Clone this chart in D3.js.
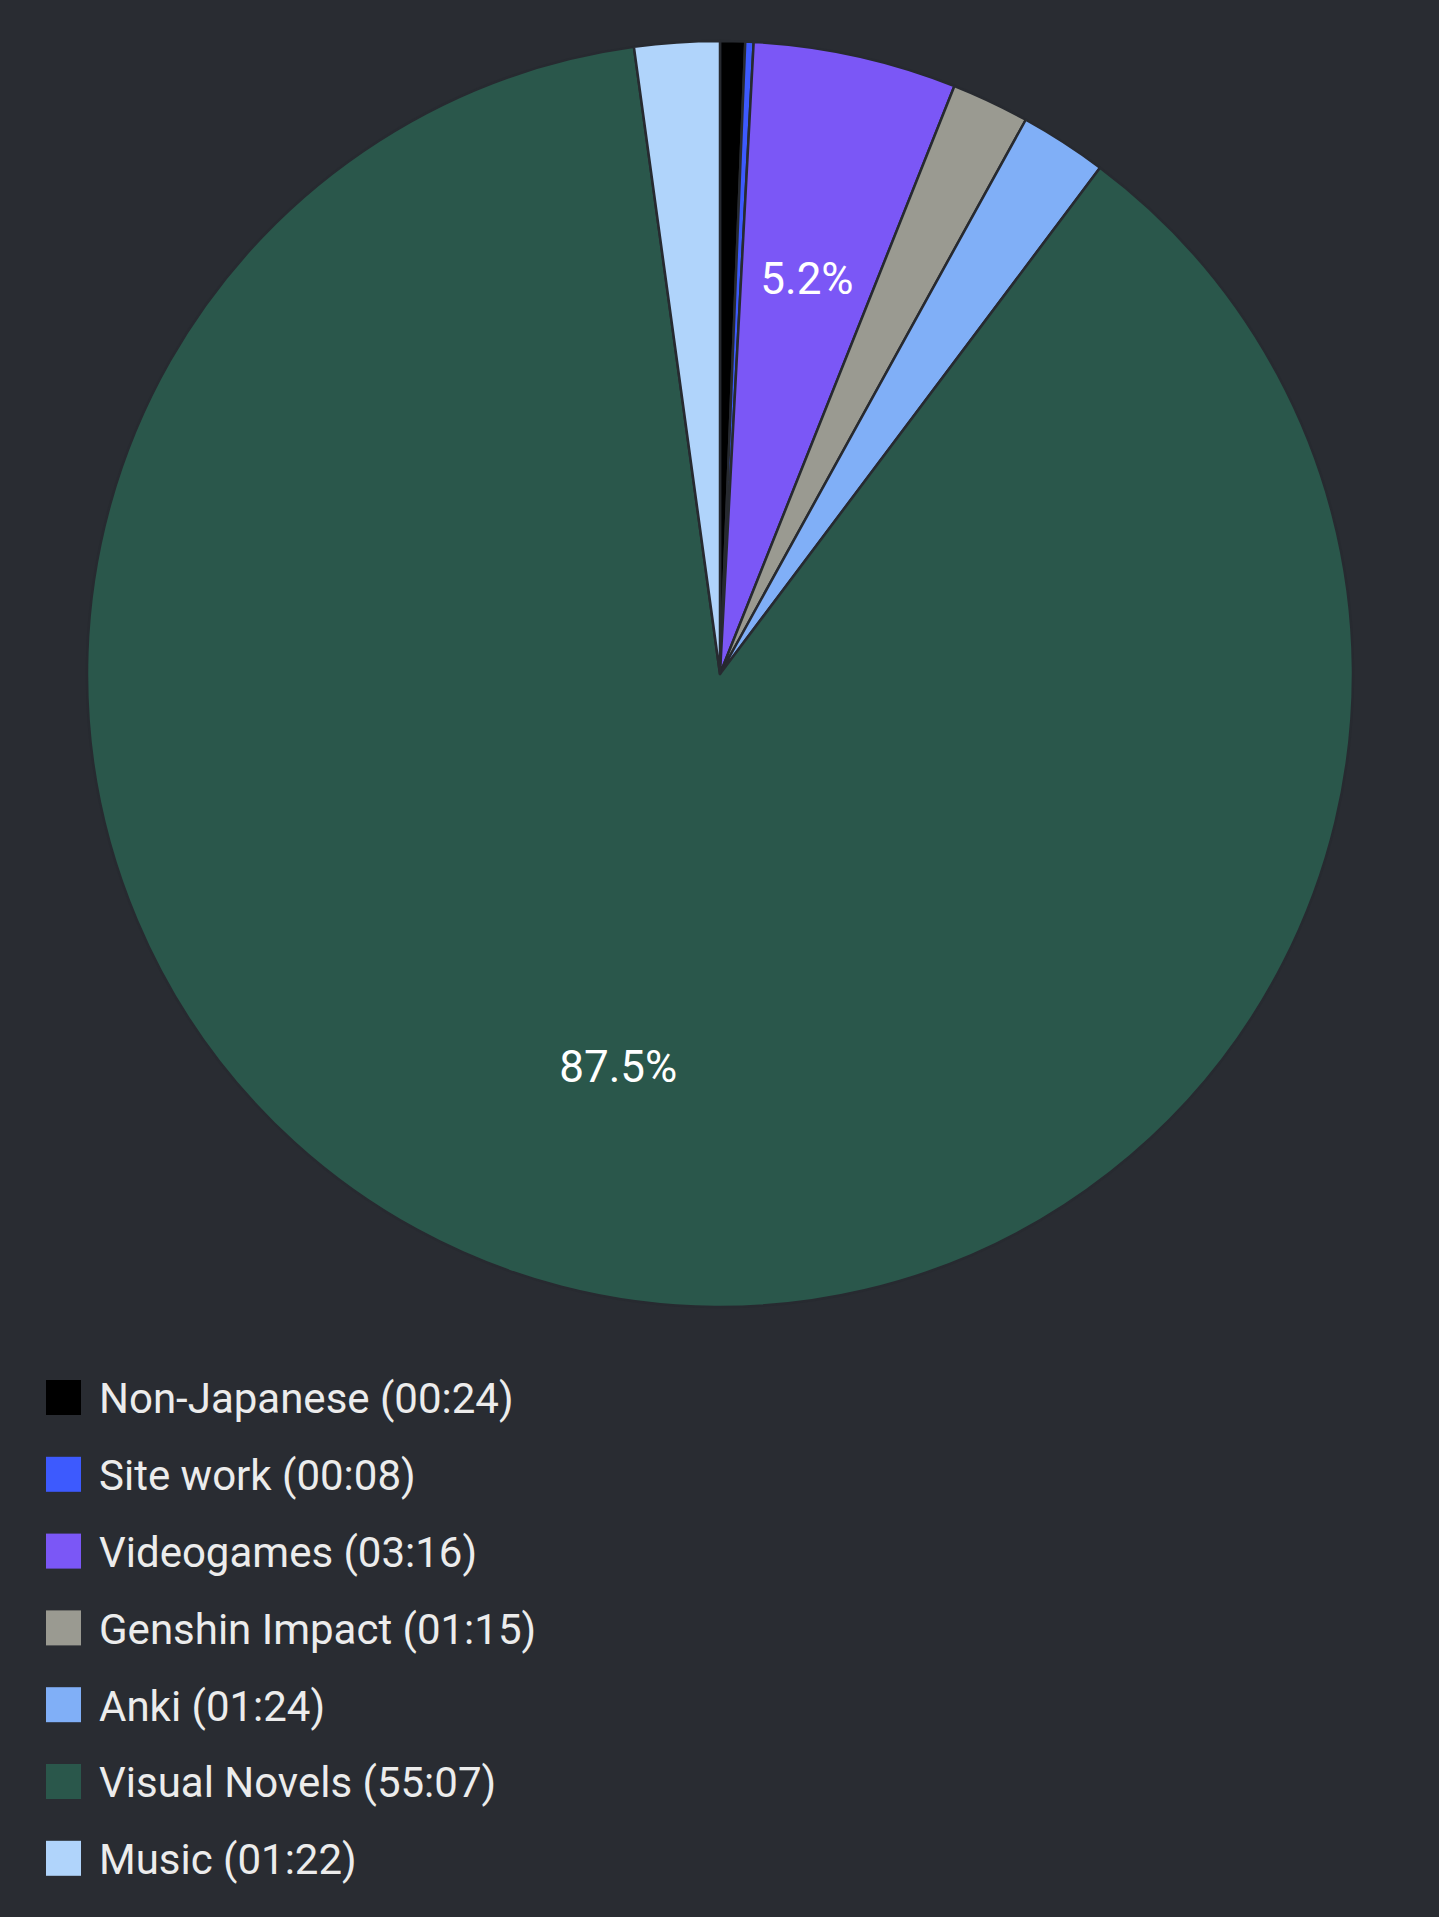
<!DOCTYPE html>
<html>
<head>
<meta charset="utf-8">
<script src="https://cdn.jsdelivr.net/npm/d3@7"></script>
<style>
  html, body { margin: 0; padding: 0; background: #292c32; }
  svg { display: block; }
</style>
</head>
<body>
<svg id="chart" width="1439" height="1917"></svg>
<script>
const categories = ["Non-Japanese", "Site work", "Videogames", "Genshin Impact", "Anki", "Visual Novels", "Music"];
const minutes = [24, 8, 196, 75, 84, 3307, 82];
const durations = ["00:24", "00:08", "03:16", "01:15", "01:24", "55:07", "01:22"];
const pctLabels = ["", "", "5.2%", "", "", "87.5%", ""];
const colors = ["#000000", "#3d5afe", "#7b57f6", "#9a9a91", "#80aff7", "#2a574b", "#b0d4fb"];

const svg = d3.select("#chart");
const W = 1439, H = 1917;
svg.append("rect").attr("width", W).attr("height", H).attr("fill", "#292c32");

const cx = 720, cy = 674, R = 633;
const data = categories.map((c, i) => ({ name: c, value: minutes[i], dur: durations[i], pct: pctLabels[i], color: colors[i] }));

const pie = d3.pie().sort(null).value(d => d.value).startAngle(0).endAngle(2 * Math.PI);
const arc = d3.arc().innerRadius(0).outerRadius(R);
const labelArc = d3.arc().innerRadius(R * 0.64).outerRadius(R * 0.64);

const g = svg.append("g").attr("transform", `translate(${cx},${cy})`);
const arcs = pie(data);

g.selectAll("path.slice")
  .data(arcs)
  .join("path")
  .attr("class", "slice")
  .attr("d", arc)
  .attr("fill", d => d.data.color)
  .attr("stroke", "#272a30")
  .attr("stroke-width", 2.5)
  .attr("stroke-linejoin", "round");

g.selectAll("text.pct")
  .data(arcs.filter(d => d.data.pct))
  .join("text")
  .attr("class", "pct")
  .attr("transform", d => `translate(${labelArc.centroid(d)})`)
  .attr("text-anchor", "middle")
  .attr("dy", "0.36em")
  .attr("fill", "#ffffff")
  .style("font-family", "Roboto, sans-serif")
  .style("font-size", "44px")
  .text(d => d.data.pct);

// Legend
const legend = svg.append("g").attr("transform", "translate(46,1380)");
const rowH = 76.8, sq = 35;
const rows = legend.selectAll("g.row")
  .data(data)
  .join("g")
  .attr("class", "row")
  .attr("transform", (d, i) => `translate(0,${i * rowH})`);

rows.append("rect")
  .attr("width", sq)
  .attr("height", sq)
  .attr("fill", d => d.color);

rows.append("text")
  .attr("x", 53)
  .attr("y", sq / 2)
  .attr("dy", "0.38em")
  .attr("fill", "#ececec")
  .style("font-family", "Roboto, sans-serif")
  .style("font-size", "42px")
  .text(d => `${d.name} (${d.dur})`);
</script>
</body>
</html>
